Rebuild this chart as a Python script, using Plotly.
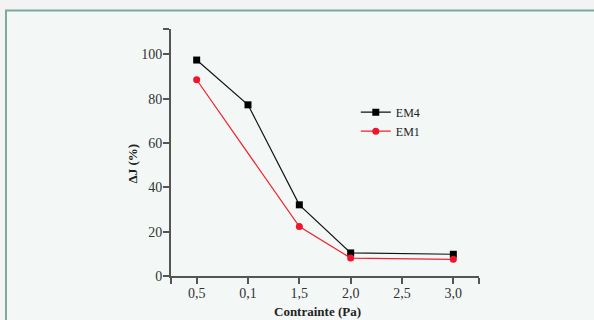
import plotly.graph_objects as go

categories = ["0,5", "0,1", "1,5", "2,0", "2,5", "3,0"]
em4 = [97.4, 77.2, 32.1, 10.4, None, 9.8]
em1 = [88.5, None, 22.3, 8.1, None, 7.5]
y_ticks = [0, 20, 40, 60, 80, 100]

xpos = list(range(len(categories)))
FONT = "Liberation Serif, 'Times New Roman', DejaVu Serif, serif"
AX = "#555555"

fig = go.Figure()
fig.add_trace(go.Scatter(x=xpos, y=em4, name="EM4", mode="lines+markers", connectgaps=True,
                         line=dict(color="#111111", width=1.2),
                         marker=dict(symbol="square", size=7, color="#000000")))
fig.add_trace(go.Scatter(x=xpos, y=em1, name="EM1", mode="lines+markers", connectgaps=True,
                         line=dict(color="#f0202f", width=1.2),
                         marker=dict(symbol="circle", size=7, color="#f0142c")))

ytop = 111.4
fig.update_layout(
    width=594, height=320,
    margin=dict(l=171, r=115, t=29, b=44, autoexpand=False),
    paper_bgcolor="#f3f3f3",
    plot_bgcolor="rgba(0,0,0,0)",
    font=dict(family=FONT, size=14, color="#333333"),
    showlegend=True,
    legend=dict(x=0.6, y=0.722, xanchor="left", yanchor="top", bgcolor="rgba(0,0,0,0)",
                font=dict(family=FONT, size=12, color="#222222"), tracegroupgap=0,
                itemwidth=30),
    shapes=[dict(type="rect", xref="paper", yref="paper", layer="below",
                 x0=(6 - 171) / 308, x1=(620 - 171) / 308,
                 y0=(276 - 340) / 247, y1=(276 - 10.5) / 247,
                 fillcolor="#f3f8f7", line=dict(color="#7fa8a0", width=2))],
    annotations=[
        dict(text="<b>Contrainte (Pa)</b>", xref="paper", yref="paper",
             x=(317.5 - 171) / 308, y=(276 - 311) / 247, xanchor="center", yanchor="middle",
             showarrow=False, font=dict(family=FONT, size=13, color="#222222")),
        dict(text="<b>ΔJ (%)</b>", xref="paper", yref="paper", textangle=-90,
             x=(132.5 - 171) / 308, y=(276 - 164) / 247, xanchor="center", yanchor="middle",
             showarrow=False, font=dict(family=FONT, size=13, color="#222222")),
    ],
)
fig.update_xaxes(range=[-0.5, 5.5], tickmode="array", automargin=False,
                 tickvals=[-0.5] + xpos + [5.5], ticktext=[""] + categories + [""],
                 showgrid=False, zeroline=False, showline=True, linecolor=AX, linewidth=2,
                 ticks="outside", ticklen=6, tickwidth=2, tickcolor=AX, ticklabelstandoff=-3,
                 tickfont=dict(family=FONT, size=14, color="#333333"))
fig.update_yaxes(range=[0, ytop], tickmode="array", automargin=False,
                 tickvals=y_ticks + [ytop], ticktext=[str(v) for v in y_ticks] + [""],
                 showgrid=False, zeroline=False, showline=True, linecolor=AX, linewidth=2,
                 ticks="outside", ticklen=6, tickwidth=2, tickcolor=AX, ticklabelstandoff=-2,
                 tickfont=dict(family=FONT, size=14, color="#333333"))

fig.write_html("out.html")
